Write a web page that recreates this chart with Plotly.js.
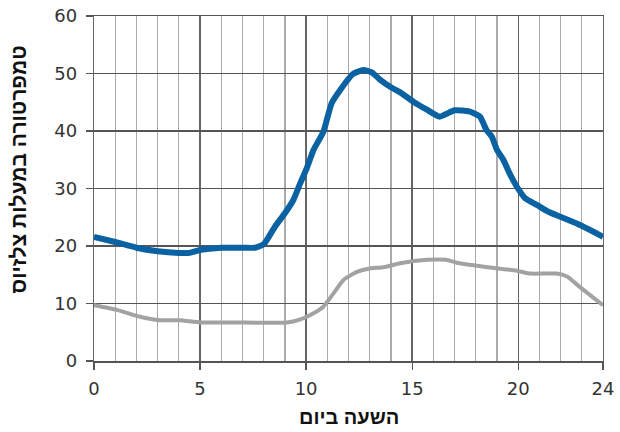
<!DOCTYPE html>
<html>
<head>
<meta charset="utf-8">
<script src="https://cdn.plot.ly/plotly-3.0.1.min.js"></script>
<style>
  html, body { margin: 0; padding: 0; background: #fff; }
  #chart { width: 620px; height: 432px; }
</style>
</head>
<body>
<div id="chart"></div>
<script>
// Hour of day and temperature (°C) for the two curves
const upperHours = [0, 1, 2, 3, 4, 4.5, 5, 6, 7, 7.6, 8, 8.54, 9, 9.4, 9.72, 10.03, 10.35, 10.82, 11.2, 11.6, 12.2, 12.7, 13.1, 13.5, 14.0, 14.4, 15.06, 15.7, 16.3, 17.0, 17.7, 18.2, 18.5, 18.76, 19.0, 19.3, 19.6, 19.94, 20.33, 20.9, 21.4, 22.77, 24];
const upperTemps = [21.6, 20.7, 19.7, 19.1, 18.8, 18.8, 19.3, 19.7, 19.7, 19.7, 20.3, 23.4, 25.7, 28, 30.9, 33.5, 36.7, 39.9, 44.8, 47.1, 49.9, 50.6, 50.2, 48.9, 47.6, 46.8, 45.1, 43.7, 42.5, 43.6, 43.4, 42.5, 40.2, 39, 36.7, 35, 32.6, 30.3, 28.3, 27.1, 26.0, 23.9, 21.6];

const lowerHours = [0, 1.07, 2.17, 3.1, 4.06, 5, 6.6, 9.1, 9.7, 10.2, 10.8, 11.3, 11.76, 12.4, 13, 13.65, 14.43, 15.7, 16.6, 17.1, 18.4, 19.94, 20.57, 21.8, 22.3, 22.9, 24];
const lowerTemps = [9.7, 8.9, 7.7, 7.1, 7.1, 6.7, 6.7, 6.7, 7.2, 8.0, 9.4, 11.8, 14.1, 15.5, 16.1, 16.3, 17.0, 17.6, 17.6, 17.1, 16.4, 15.7, 15.2, 15.2, 14.7, 12.9, 9.7];

const xTickVals = [0, 5, 10, 15, 20, 24];
const yTickVals = [0, 10, 20, 30, 40, 50, 60];

const xTitle = 'השעה ביום';
const yTitle = 'טמפרטורה במעלות צלזיוס';

const tickFont = '"DejaVu Sans", "Open Sans", sans-serif';
const titleFont = '"Liberation Sans", "DejaVu Sans", sans-serif';

const traces = [
  {
    x: lowerHours, y: lowerTemps, type: 'scatter', mode: 'lines',
    line: { color: '#a2a2a2', width: 4, shape: 'spline', smoothing: 0.5 },
    hoverinfo: 'skip'
  },
  {
    x: upperHours, y: upperTemps, type: 'scatter', mode: 'lines',
    line: { color: '#0b62a2', width: 6, shape: 'spline', smoothing: 0.5 },
    hoverinfo: 'skip'
  }
];

const layout = {
  width: 620, height: 432,
  margin: { l: 94, r: 17, t: 16, b: 71 },
  paper_bgcolor: '#fff', plot_bgcolor: '#fff',
  showlegend: false,
  font: { family: tickFont, color: '#333', size: 17 },
  xaxis: {
    range: [0, 24], tickvals: xTickVals, ticktext: xTickVals.map(String),
    ticks: 'outside', ticklen: 7, tickcolor: '#555', tickwidth: 1.2,
    ticklabelstandoff: 4,
    showgrid: true, gridcolor: '#666', gridwidth: 1.3,
    minor: { dtick: 1, showgrid: true, gridcolor: '#aaa', gridwidth: 1.3 },
    showline: true, linecolor: '#555', linewidth: 1.5, mirror: true,
    zeroline: false, fixedrange: true,
    tickfont: { family: tickFont, size: 18, color: '#333' }
  },
  yaxis: {
    range: [0, 60], tickvals: yTickVals,
    ticks: 'outside', ticklen: 7, tickcolor: '#555', tickwidth: 1.2,
    ticklabelstandoff: 5,
    showgrid: true, gridcolor: '#555', gridwidth: 1.3,
    showline: true, linecolor: '#666', linewidth: 1.3, mirror: true,
    zeroline: false, fixedrange: true,
    tickfont: { family: tickFont, size: 18, color: '#333' }
  },
  annotations: [
    {
      text: '<b>' + xTitle + '</b>', xref: 'paper', yref: 'paper',
      x: 0.5, y: -0.163, xanchor: 'center', yanchor: 'middle',
      showarrow: false, font: { family: titleFont, size: 20, color: '#111' }
    },
    {
      text: '<b>' + yTitle + '</b>', xref: 'paper', yref: 'paper',
      x: -0.148, y: 0.554, xanchor: 'center', yanchor: 'middle', textangle: -90,
      showarrow: false, font: { family: titleFont, size: 21, color: '#111' }
    }
  ]
};

Plotly.newPlot('chart', traces, layout, { displayModeBar: false, staticPlot: true });
</script>
</body>
</html>
